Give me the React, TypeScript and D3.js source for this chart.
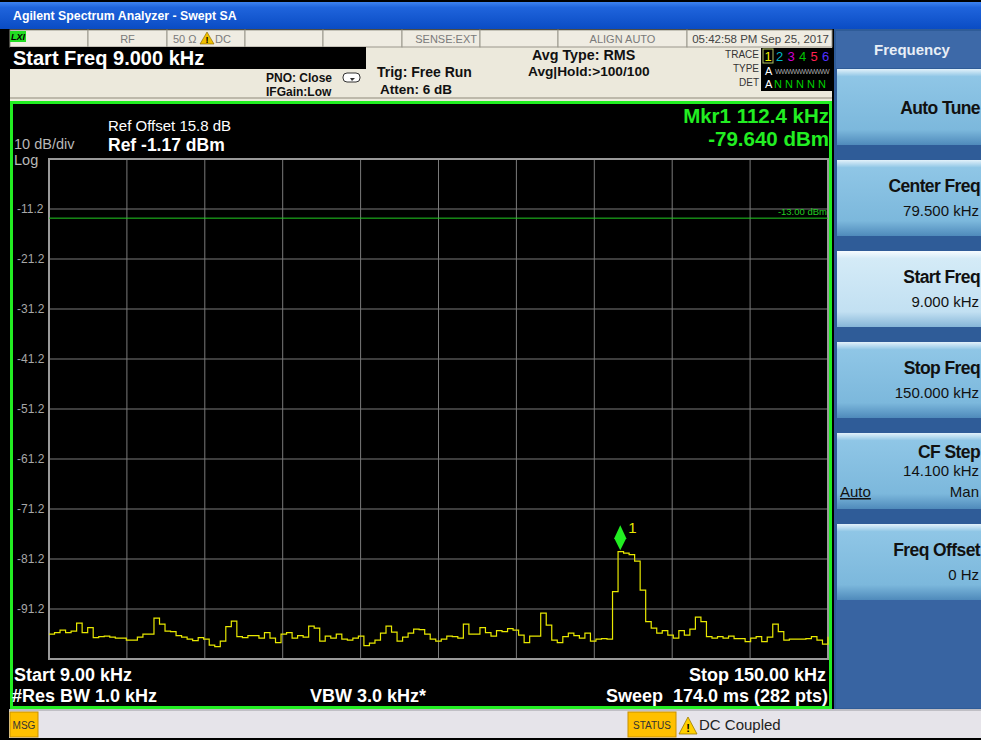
import { curveStepAfter, line, range, scaleLinear } from "d3";
import { useEffect } from "react";

// sweep settings
const START_KHZ = 9;
const STOP_KHZ = 150;
const STEP_KHZ = 1;
const REF_DBM = -1.17;
const DB_PER_DIV = 10;
const DIVS = 10;
const LIMIT_DBM = -13;
const MARKER_KHZ = 112.4;
const MARKER_DBM = -79.64;

// trace 1 (avg), one value per kHz from 9 kHz to 150 kHz
const traceDbm = [
  -96.2, -95.9, -95.4, -95.9, -95.6, -94.0, -95.9, -94.9, -96.9, -96.7,
  -96.6, -96.8, -97.0, -97.0, -97.4, -97.4, -96.8, -96.2, -96.2, -93.0,
  -94.2, -95.6, -95.7, -96.5, -96.8, -97.2, -97.5, -96.9, -97.2, -98.4,
  -98.7, -97.6, -94.7, -93.6, -96.7, -96.9, -96.5, -96.5, -97.0, -95.9,
  -97.0, -97.9, -96.2, -95.9, -97.0, -96.5, -96.8, -94.6, -95.0, -97.6,
  -96.6, -97.0, -96.2, -97.2, -97.4, -97.0, -96.6, -98.5, -98.0, -97.4,
  -96.0, -94.6, -95.8, -97.6, -96.8, -96.0, -95.2, -95.3, -96.2, -97.2,
  -97.6, -97.2, -96.6, -96.7, -97.0, -94.2, -96.2, -96.2, -94.9, -95.9,
  -96.6, -95.5, -95.7, -95.1, -95.4, -96.4, -97.9, -96.6, -96.6, -92.0,
  -94.4, -97.4, -97.9, -96.7, -96.0, -96.5, -97.0, -96.0, -97.6, -97.2,
  -97.1, -97.2, -87.7, -79.7, -80.0, -80.3, -81.6, -87.4, -93.7, -95.0,
  -96.0, -95.5, -96.4, -97.0, -95.5, -96.4, -95.2, -92.8, -93.7, -96.7,
  -97.0, -96.7, -97.0, -96.6, -97.1, -97.1, -97.7, -97.0, -96.7, -97.7,
  -96.8, -94.2, -95.7, -97.4, -97.2, -97.2, -97.2, -97.1, -96.7, -97.4,
  -98.2, -96.7,
];

const yTickLabels = ["-11.2", "-21.2", "-31.2", "-41.2", "-51.2", "-61.2", "-71.2", "-81.2", "-91.2"];

const softkeyLabels = ["Auto Tune", "Center Freq", "Start Freq", "Stop Freq", "CF Step", "Freq Offset"];
const softkeyValues = ["", "79.500 kHz", "9.000 kHz", "150.000 kHz", "14.100 kHz", "0 Hz"];
const SELECTED_KEY = 2;

const statusCells = ["", "RF", "", "", "", "SENSE:EXT", "", "ALIGN AUTO", "05:42:58 PM Sep 25, 2017"];
const statusEdges = [10, 88, 167, 245, 323, 402, 480, 558, 687, 832];

const traceDigits = ["1", "2", "3", "4", "5", "6"];
const traceColors = ["#f0f000", "#00b8c8", "#d000d0", "#00c000", "#ff2050", "#5030ff"];

const FONT = "'Liberation Sans', Arial, sans-serif";

export default function App() {
  useEffect(() => {
    document.body.style.margin = "0";
    document.body.style.background = "#000";
  }, []);

  const x = scaleLinear().domain([START_KHZ, STOP_KHZ]).range([49, 828]);
  const y = scaleLinear()
    .domain([REF_DBM - DB_PER_DIV * DIVS, REF_DBM])
    .range([659, 159]);

  const freqs = traceDbm.map((_, i) => START_KHZ + i * STEP_KHZ);
  const tracePath = line<number>()
    .x((_, i) => x(freqs[i]))
    .y((d) => y(d))
    .curve(curveStepAfter)(traceDbm);

  const xGrid = range(DIVS + 1).map((i) => x(START_KHZ + ((STOP_KHZ - START_KHZ) * i) / DIVS));
  const yGrid = range(DIVS + 1).map((i) => y(REF_DBM - i * DB_PER_DIV));

  const mx = x(MARKER_KHZ);
  const my = y(MARKER_DBM);

  // where each status-row label sits inside its cell
  const cellText = (i: number) => {
    if (i === 8 || i === 5) return { x: statusEdges[i + 1] - 3, anchor: "end" };
    return { x: (statusEdges[i] + statusEdges[i + 1]) / 2, anchor: "middle" };
  };

  return (
    <svg width={981} height={740} style={{ display: "block", fontFamily: FONT }}>
      <defs>
        <linearGradient id="title" x1="0" y1="0" x2="0" y2="1">
          <stop offset="0%" stopColor="#3d83f0" />
          <stop offset="20%" stopColor="#1f64dc" />
          <stop offset="100%" stopColor="#0a4cc4" />
        </linearGradient>
        <linearGradient id="key" x1="0" y1="0" x2="0" y2="1">
          <stop offset="0%" stopColor="#e2f1fa" />
          <stop offset="10%" stopColor="#8fc6e6" />
          <stop offset="80%" stopColor="#7cb8dc" />
          <stop offset="100%" stopColor="#4f8abb" />
        </linearGradient>
        <linearGradient id="keySel" x1="0" y1="0" x2="0" y2="1">
          <stop offset="0%" stopColor="#f6fcff" />
          <stop offset="10%" stopColor="#d4ebf7" />
          <stop offset="80%" stopColor="#c2e0f2" />
          <stop offset="100%" stopColor="#86b6d8" />
        </linearGradient>
      </defs>

      <rect width={981} height={740} fill="#000" />

      {/* title bar */}
      <rect x={0} y={2} width={981} height={27} fill="url(#title)" />
      <text x={13} y={20} fill="#fff" fontSize={12.3} fontWeight="bold">
        Agilent Spectrum Analyzer - Swept SA
      </text>

      {/* header */}
      <rect x={10} y={30} width={822} height={71} fill="#ece9dc" />
      {statusCells.map((s, i) => {
        const ct = cellText(i);
        return (
          <g key={i}>
            <rect
              x={statusEdges[i]}
              y={30}
              width={statusEdges[i + 1] - statusEdges[i]}
              height={17}
              fill="#efece2"
              stroke="#9a978c"
              strokeWidth={1}
            />
            {s && (
              <text
                x={ct.x}
                y={43}
                fill={i === 8 ? "#444" : "#7a7a7a"}
                fontSize={i === 8 ? 11.5 : 11}
                textAnchor={ct.anchor}
              >
                {s}
              </text>
            )}
          </g>
        );
      })}
      <rect x={10} y={31} width={16} height={11} fill="#22dd22" />
      <text x={11} y={40} fontSize={9} fontWeight="bold" fontStyle="italic" fill="#000">
        LXI
      </text>
      <text x={173} y={43} fill="#7a7a7a" fontSize={11}>
        50 Ω
      </text>
      <polygon points="200,44 207,32 214,44" fill="#f0c000" stroke="#806000" strokeWidth={0.6} />
      <text x={207} y={43} fill="#000" fontSize={9} fontWeight="bold" textAnchor="middle">
        !
      </text>
      <text x={215} y={43} fill="#7a7a7a" fontSize={11}>
        DC
      </text>

      <rect x={10} y={47} width={356} height={22} fill="#000" />
      <text x={13} y={65} fill="#fff" fontSize={20} fontWeight="bold">
        Start Freq 9.000 kHz
      </text>
      <line x1={10} x2={832} y1={98} y2={98} stroke="#bdb9ab" strokeWidth={2} />

      <text x={266} y={82} fontSize={12} fontWeight="bold" fill="#111">
        PNO: Close
      </text>
      <rect x={343} y={73} width={17} height={9} rx={4} fill="#fff" stroke="#333" strokeWidth={1} />
      <polygon points="350,78 355,78 352,81" fill="#333" />
      <text x={266} y={96} fontSize={12} fontWeight="bold" fill="#111">
        IFGain:Low
      </text>
      <text x={377} y={77} fontSize={14} fontWeight="bold" fill="#111">
        Trig: Free Run
      </text>
      <text x={380} y={94} fontSize={13.5} fontWeight="bold" fill="#111">
        Atten: 6 dB
      </text>
      <text x={532} y={60} fontSize={14.3} fontWeight="bold" fill="#111">
        Avg Type: RMS
      </text>
      <text x={528} y={76} fontSize={13.7} fontWeight="bold" fill="#111">
        Avg|Hold:&gt;100/100
      </text>

      {/* trace indicator box */}
      {["TRACE", "TYPE", "DET"].map((t, i) => (
        <text key={t} x={759} y={58 + i * 14} fontSize={10} fill="#333" textAnchor="end">
          {t}
        </text>
      ))}
      <rect x={761} y={48} width={71} height={43} fill="#000" />
      <rect x={763} y={49} width={10} height={14} fill="none" stroke="#b0c060" strokeWidth={1} />
      {traceDigits.map((d, i) => (
        <text key={d} x={768 + i * 11.5} y={61} fontSize={13} fill={traceColors[i]} textAnchor="middle">
          {d}
        </text>
      ))}
      <text x={765} y={75} fontSize={11} fill="#fff">
        A
      </text>
      <text x={775} y={74} fontSize={7} fill="#aaa" letterSpacing={-0.6}>
        WWWWWWWWW
      </text>
      <text x={765} y={88} fontSize={11} fill="#fff">
        A
      </text>
      {range(5).map((i) => (
        <text key={i} x={778 + i * 11} y={88} fontSize={11} fill="#00d000" textAnchor="middle">
          N
        </text>
      ))}

      {/* display frame */}
      <rect x={11.5} y={102.5} width={819} height={605} fill="#000" stroke="#22ee22" strokeWidth={3} />

      <text x={14} y={149} fontSize={14.5} fill="#b8b8b8">
        10 dB/div
      </text>
      <text x={14} y={165} fontSize={14.5} fill="#b8b8b8">
        Log
      </text>
      <text x={108} y={131} fontSize={15} fill="#fff">
        Ref Offset 15.8 dB
      </text>
      <text x={108} y={151} fontSize={17.5} fontWeight="bold" fill="#fff">
        Ref -1.17 dBm
      </text>
      <text x={829} y={123} fontSize={20.5} fontWeight="bold" fill="#22ee22" textAnchor="end">
        Mkr1 112.4 kHz
      </text>
      <text x={829} y={146} fontSize={20.5} fontWeight="bold" fill="#22ee22" textAnchor="end">
        -79.640 dBm
      </text>

      {/* graticule */}
      {xGrid.slice(1, -1).map((gx, i) => (
        <line key={`vx${i}`} x1={gx} x2={gx} y1={y.range()[1]} y2={y.range()[0]} stroke="#7a7a7a" strokeWidth={1} />
      ))}
      {yGrid.slice(1, -1).map((gy, i) => (
        <line key={`hy${i}`} x1={x.range()[0]} x2={x.range()[1]} y1={gy} y2={gy} stroke="#7a7a7a" strokeWidth={1} />
      ))}
      <rect
        x={x.range()[0]}
        y={y.range()[1]}
        width={x.range()[1] - x.range()[0]}
        height={y.range()[0] - y.range()[1]}
        fill="none"
        stroke="#9a9a9a"
        strokeWidth={2}
      />
      {yTickLabels.map((t, i) => (
        <text key={t} x={17} y={yGrid[i + 1] + 4} fontSize={12} fill="#a8a8a8">
          {t}
        </text>
      ))}

      {/* limit line */}
      <line x1={x.range()[0]} x2={x.range()[1]} y1={y(LIMIT_DBM)} y2={y(LIMIT_DBM)} stroke="#22cc22" strokeWidth={1} />
      <text x={827} y={y(LIMIT_DBM) - 3} fontSize={9.5} fill="#22cc22" textAnchor="end">
        -13.00 dBm
      </text>

      {/* trace */}
      <path d={tracePath ?? ""} fill="none" stroke="#e8e800" strokeWidth={1.2} />

      {/* marker */}
      <polygon
        points={`${mx},${my - 26} ${mx + 6},${my - 13} ${mx},${my - 1} ${mx - 6},${my - 13}`}
        fill="#22ee22"
      />
      <text x={mx + 8} y={my - 18} fontSize={15} fill="#e8e800">
        1
      </text>

      {/* bottom annotations */}
      <text x={14} y={681} fontSize={18} fontWeight="bold" fill="#fff">
        Start 9.00 kHz
      </text>
      <text x={12} y={702} fontSize={18} fontWeight="bold" fill="#fff">
        #Res BW 1.0 kHz
      </text>
      <text x={310} y={702} fontSize={18} fontWeight="bold" fill="#fff">
        VBW 3.0 kHz*
      </text>
      <text x={826} y={681} fontSize={18} fontWeight="bold" fill="#fff" textAnchor="end">
        Stop 150.00 kHz
      </text>
      <text x={828} y={702} fontSize={18} fontWeight="bold" fill="#fff" textAnchor="end" xmlSpace="preserve">
        Sweep  174.0 ms (282 pts)
      </text>

      {/* softkey panel */}
      <rect x={834} y={29} width={147} height={680} fill="#2f5c98" />
      <rect x={836} y={31} width={145} height={37} fill="#3d69a8" />
      <text x={912} y={55} fontSize={15} fontWeight="bold" fill="#e8eef6" textAnchor="middle">
        Frequency
      </text>
      <rect x={836} y={600} width={145} height={108} fill="#3864a2" />
      {softkeyLabels.map((label, i) => {
        const top = 69 + i * 91;
        const hasValue = softkeyValues[i] !== "";
        const isCf = label === "CF Step";
        return (
          <g key={label}>
            <rect x={837} y={top} width={144} height={76} fill={i === SELECTED_KEY ? "url(#keySel)" : "url(#key)"} />
            <text
              x={980}
              y={hasValue ? top + (isCf ? 25 : 32) : top + 45}
              fontSize={17.5}
              fontWeight="bold"
              fill="#111"
              textAnchor="end"
              letterSpacing={-0.6}
            >
              {label}
            </text>
            {hasValue && (
              <text x={979} y={top + (isCf ? 43 : 56)} fontSize={15} fill="#111" textAnchor="end">
                {softkeyValues[i]}
              </text>
            )}
            {isCf && (
              <>
                <text x={840} y={top + 64} fontSize={15} fill="#111" textDecoration="underline">
                  Auto
                </text>
                <text x={979} y={top + 64} fontSize={15} fill="#111" textAnchor="end">
                  Man
                </text>
              </>
            )}
          </g>
        );
      })}

      {/* status bar */}
      <rect x={9} y={709} width={972} height={29} fill="#e6e4ea" />
      <line x1={9} x2={981} y1={710} y2={710} stroke="#9a9aa0" />
      <rect x={10} y={712} width={28} height={25} fill="#ffc000" stroke="#c89000" strokeWidth={1} />
      <text x={24} y={729} fontSize={10} fill="#333" textAnchor="middle">
        MSG
      </text>
      <rect x={628} y={712} width={48} height={25} fill="#ffc000" stroke="#c89000" strokeWidth={1} />
      <text x={652} y={729} fontSize={10} fill="#333" textAnchor="middle">
        STATUS
      </text>
      <polygon points="679,734 688,717 697,734" fill="#ffd000" stroke="#9a7a00" strokeWidth={0.8} />
      <text x={688} y={732} fontSize={11} fontWeight="bold" fill="#000" textAnchor="middle">
        !
      </text>
      <text x={699} y={730} fontSize={15} fill="#222">
        DC Coupled
      </text>
    </svg>
  );
}
